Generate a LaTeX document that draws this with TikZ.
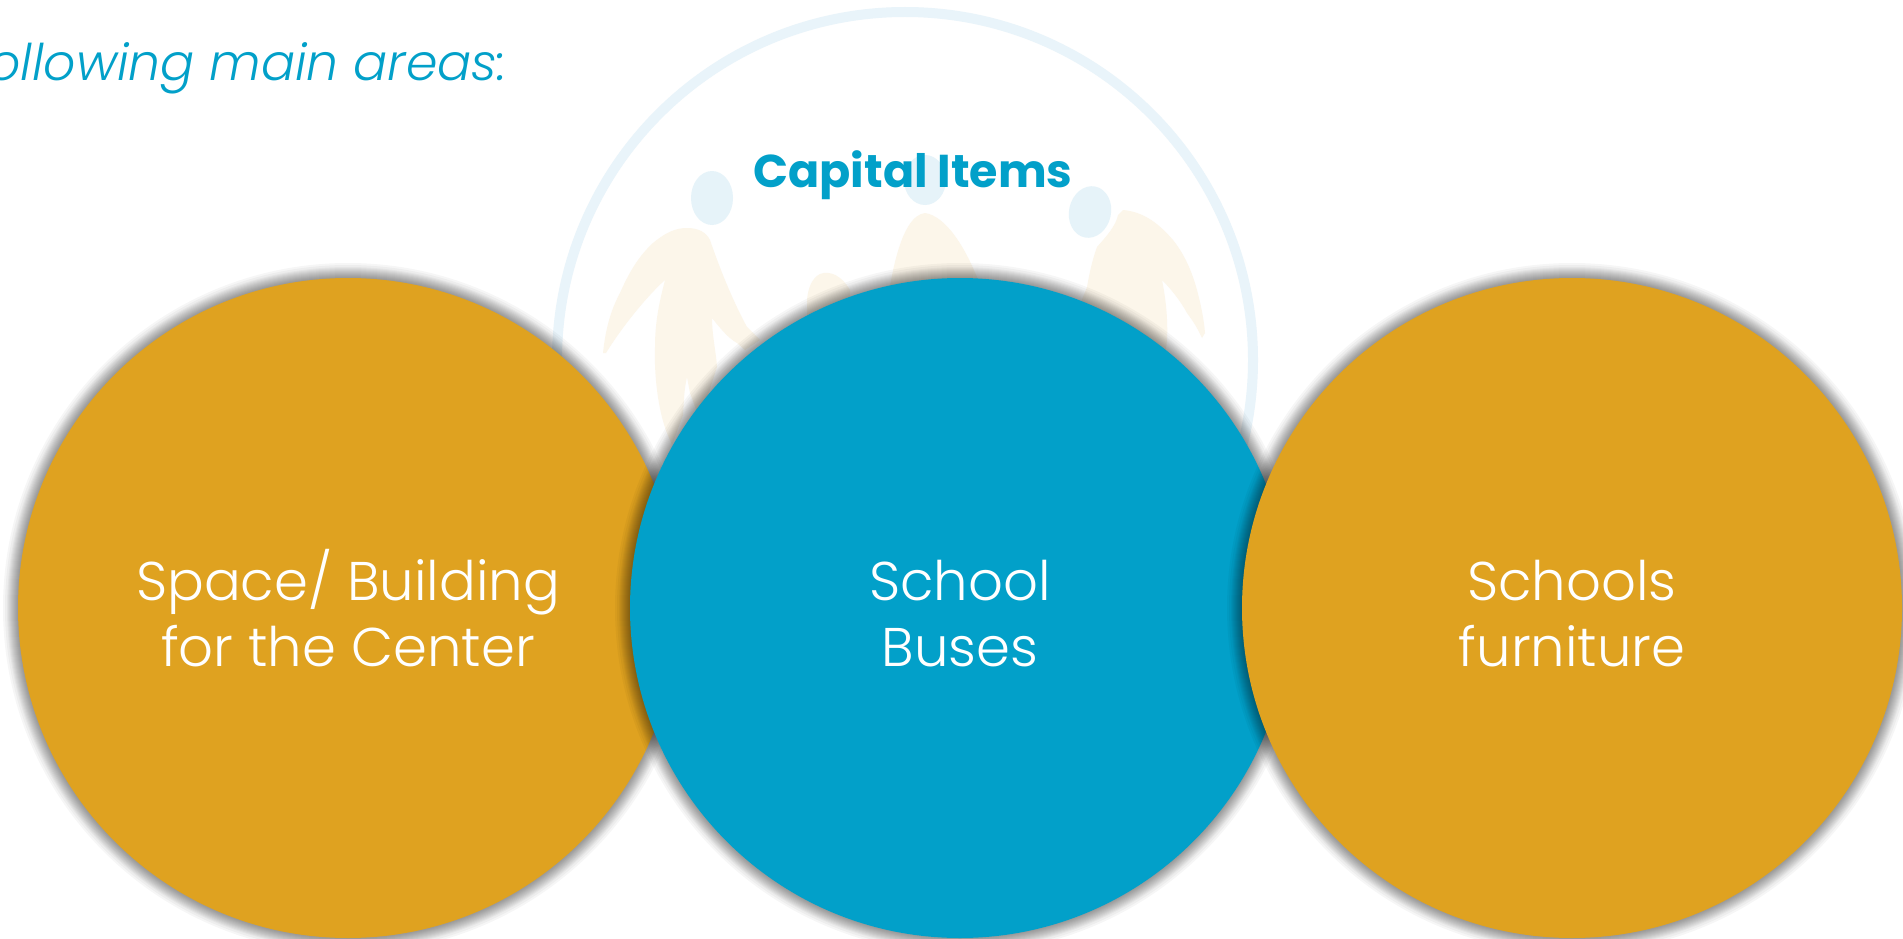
\documentclass[tikz,border=0pt]{standalone}
\usepackage{fontspec}
\setmainfont{Poppins}
\newfontfamily\lightf[UprightFont=* Light,ItalicFont=* Light Italic]{Poppins}
\newfontfamily\boldf[UprightFont=* Bold]{Poppins}
\definecolor{bluec}{HTML}{02A0C9}
\definecolor{goldc}{HTML}{DFA220}
\definecolor{headc}{HTML}{E6F3F9}
\definecolor{ringc}{HTML}{E9F4FA}
\definecolor{bodyc}{HTML}{FCF6EA}
\newcommand\softshadow[2]{\foreach \d in {1,2,3,4,5,6,7,8,9,10,11,13,15} \fill[black,opacity=.034] (#1,#2) circle (330+\d);}
\newcommand\topline{\rule{0pt}{71pt}}
\newcommand\botline{\rule[-20pt]{0pt}{20pt}}
\tikzset{
  bubble/.style={circle,minimum size=660,inner sep=0pt,text=white,align=center,
    font=\lightf\fontsize{54.5}{66}\selectfont},
  figurebody/.style={fill=bodyc,draw=none},
  figurehead/.style={fill=headc,draw=none}
}
\begin{document}
\begin{tikzpicture}[x=1pt,y=-1pt]
\useasboundingbox (0,0) rectangle (1903,939);
\clip (0,0) rectangle (1903,939);
\fill[white] (0,0) rectangle (1903,939);
\draw[ringc,line width=10pt] (905,360) circle (348);
% heads
\fill[figurehead] (712,198) ellipse (21 and 27);
\fill[figurehead] (925,180) ellipse (21 and 25);
\fill[figurehead,rotate around={-12:(1090,212)}] (1090,212) ellipse (21 and 26);
% left figure
\fill[figurebody] (687,228) .. controls (698,228) and (706,232) .. (710,240)
  .. controls (722,275) and (735,305) .. (747,327) -- (760,340) -- (745,350)
  -- (737,343) .. controls (728,338) and (720,328) .. (712,318)
  .. controls (712,335) and (716,352) .. (717,367) -- (700,420) -- (690,393)
  -- (687,377) .. controls (684,390) and (684,400) .. (683,415) -- (672,445)
  -- (667,433) .. controls (658,410) and (654,375) .. (655,347)
  .. controls (655,320) and (660,300) .. (665,280)
  .. controls (645,298) and (620,330) .. (606,353) -- (603,353)
  .. controls (606,325) and (612,308) .. (620,293)
  .. controls (630,270) and (640,255) .. (653,243)
  .. controls (665,233) and (675,228) .. (687,228) -- cycle;
% child
\fill[figurebody] (807,310) -- (807,300) .. controls (808,288) and (812,278) .. (820,274)
  .. controls (830,270) and (842,276) .. (850,290) -- (850,340) -- (807,340) -- cycle;
% middle figure
\fill[figurebody] (925,213) .. controls (945,216) and (965,245) .. (980,285)
  -- (980,320) -- (885,320) .. controls (890,280) and (900,216) .. (925,213) -- cycle;
% right figure
\fill[figurebody] (1123,210) .. controls (1145,212) and (1160,225) .. (1173,240)
  .. controls (1185,255) and (1192,272) .. (1197,290)
  .. controls (1201,305) and (1204,320) .. (1205,333) -- (1202,338)
  .. controls (1196,325) and (1192,320) .. (1187,313)
  .. controls (1180,300) and (1170,288) .. (1162,280)
  .. controls (1166,300) and (1168,320) .. (1167,340) -- (1160,400) -- (1070,330)
  -- (1087,287) .. controls (1090,270) and (1093,258) .. (1097,247)
  .. controls (1105,238) and (1116,226) .. (1118,215) -- cycle;
\node[text=bluec,font=\boldf\fontsize{46}{50}\selectfont,anchor=base] (title) at (913,187) {Capital Items};
\node[text=bluec,font=\lightf\itshape\fontsize{50.5}{60}\selectfont,anchor=base east,inner sep=0pt] (lead) at (507,81) {following main areas:};
% circles, back to front
\softshadow{348}{608}
\node[bubble,fill=goldc] (left) at (348,608) {\topline Space/ Building\\for the Center\botline};
\softshadow{960}{608}
\node[bubble,fill=bluec] (mid) at (960,608) {\topline School\\Buses\botline};
\softshadow{1572}{608}
\node[bubble,fill=goldc] (right) at (1572,608) {\topline Schools\\furniture\botline};
\end{tikzpicture}
\end{document}
